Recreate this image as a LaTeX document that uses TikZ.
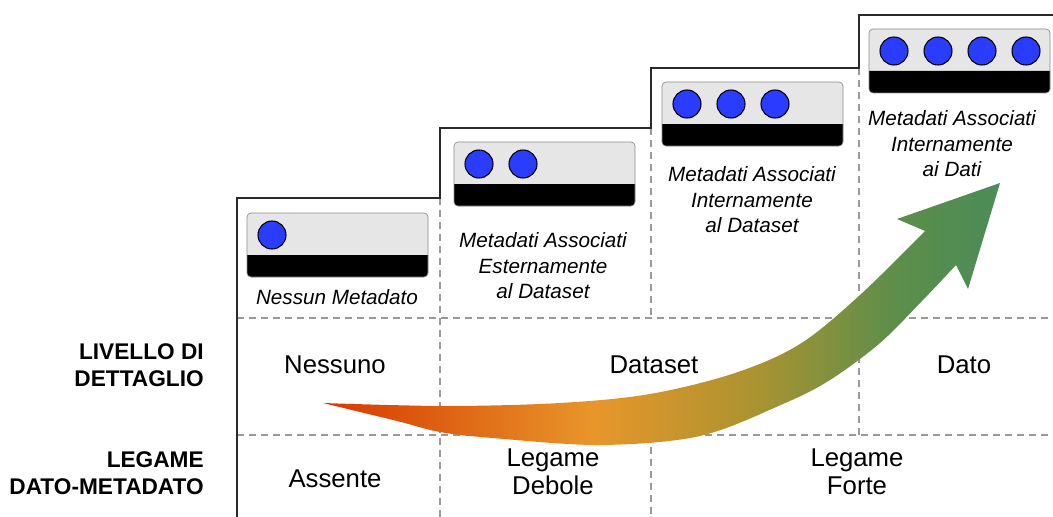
\documentclass[tikz,border=0pt]{standalone}
\usepackage{fontspec}
\setmainfont{Liberation Sans}
\setsansfont{Liberation Sans}
\definecolor{stairline}{HTML}{2A2A2A}
\definecolor{dashgray}{HTML}{9A9A9A}
\definecolor{devgray}{HTML}{E6E6E6}
\definecolor{devborder}{HTML}{8C8C8C}
\definecolor{dotblue}{HTML}{2A3CFF}
\definecolor{arrA}{HTML}{D63800}
\definecolor{arrB}{HTML}{E8962A}
\definecolor{arrC}{HTML}{AA9331}
\definecolor{arrD}{HTML}{5E8E4A}
\definecolor{arrE}{HTML}{4A8C58}
\pgfdeclarehorizontalshading{arrowshade}{100bp}{color(0bp)=(arrA); color(25bp)=(arrA); color(45bp)=(arrB); color(57bp)=(arrC); color(67bp)=(arrD); color(75bp)=(arrE); color(100bp)=(arrE)}
\newcommand\mddevice[3]{%
  \fill[devgray, rounded corners=3] (#1,#2) rectangle ++(181,64);
  \fill[black, rounded corners=3] (#1,#2+42) -- (#1,#2+64) -- (#1+181,#2+64) -- (#1+181,#2+42);
  \draw[devborder, line width=0.5pt, rounded corners=3] (#1,#2) rectangle ++(181,64);
  \foreach \ii in {1,...,#3} \draw[fill=dotblue, line width=0.8pt] (#1+25+44*\ii-44,#2+22) circle[radius=14];
}
\begin{document}
\begin{tikzpicture}[x=0.75pt, y=-0.75pt,
  stair/.style={stairline, line width=1pt},
  grid/.style={dashgray, line width=0.9pt, dash pattern=on 5.5pt off 3.5pt},
  caption/.style={align=center, font=\fontsize{15.5}{19.2}\selectfont\itshape},
  celltext/.style={align=center, font=\fontsize{19.3}{21}\selectfont},
  rowlabel/.style={align=right, anchor=east, inner sep=0pt, font=\fontsize{17}{20.2}\selectfont\bfseries}]
\useasboundingbox (0,0) rectangle (1053,517);
% dashed grid
\draw[grid] (237,318) -- (1053,318);
\draw[grid] (237,435) -- (1053,435);
\draw[grid] (440,198) -- (440,517);
\draw[grid] (651,128) -- (651,318);
\draw[grid] (651,435) -- (651,517);
\draw[grid] (859,68) -- (859,435);
% staircase
\draw[stair] (237,517) -- (237,198) -- (440,198) -- (440,128) -- (651,128) -- (651,68) -- (859,68) -- (859,15) -- (1053,15);
% devices
\mddevice{247}{213}{1}
\mddevice{454}{142}{2}
\mddevice{662}{82}{3}
\mddevice{869}{29}{4}
% arrow
\shade[shading=arrowshade] plot[smooth, tension=0.55] coordinates {(323,403) (445,406) (560,403) (650,394) (735,373) (800,344) (860,295) (925,231)}
  -- (897,219) -- (1000,183) -- (968,289)
  -- plot[smooth, tension=0.55] coordinates {(956,265) (922,301) (880,343) (830,380) (783,404) (700,436) (600,445) (493,438) (440,432) (397,421) (323,403)} -- cycle;
% captions
\node[caption] (c1) at (337,297) {Nessun Metadato};
\node[caption] (c2) at (543,266) {Metadati Associati\\Esternamente\\al Dataset};
\node[caption] (c3) at (752,200) {Metadati Associati\\Internamente\\al Dataset};
\node[caption] (c4) at (952,144) {Metadati Associati\\Internamente\\ai Dati};
% cells
\node[celltext] (n1) at (335,365) {Nessuno};
\node[celltext] (n2) at (654,365) {Dataset};
\node[celltext] (n3) at (964,365) {Dato};
\node[celltext] (l1) at (335,479) {Assente};
\node[celltext] (l2) at (553,472) {Legame\\Debole};
\node[celltext] (l3) at (857,472) {Legame\\Forte};
% row labels
\node[rowlabel] (r1) at (204,365) {LIVELLO DI\\DETTAGLIO};
\node[rowlabel] (r2) at (204,473) {LEGAME\\DATO-METADATO};
\end{tikzpicture}
\end{document}
